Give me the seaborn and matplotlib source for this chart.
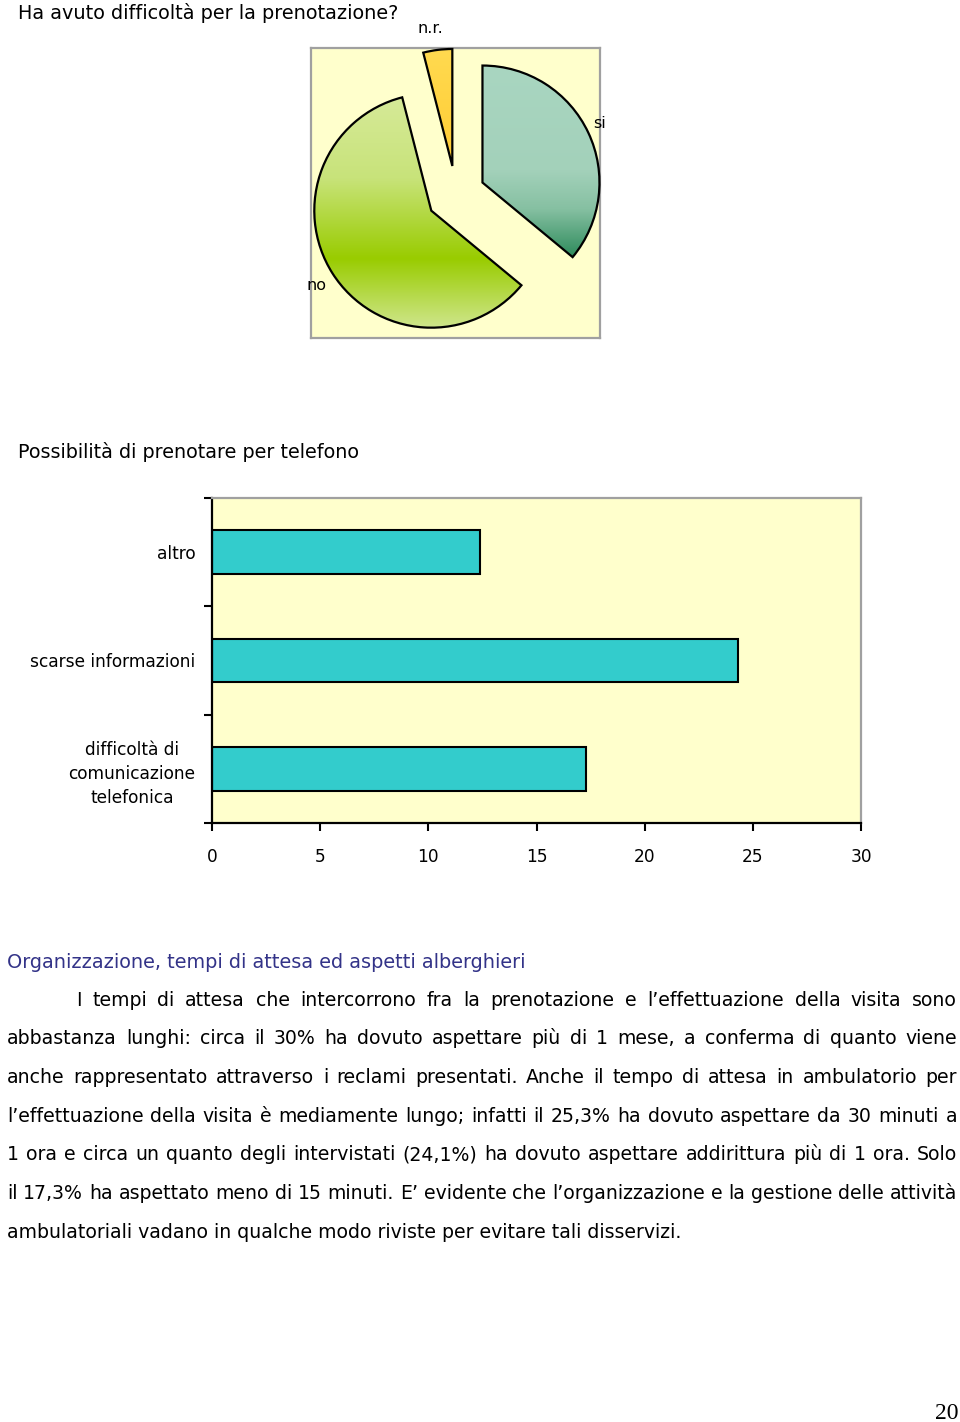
import numpy as np
import pandas as pd
import matplotlib
matplotlib.use('Agg')
import matplotlib.pyplot as plt
import seaborn as sns
from matplotlib.colors import LinearSegmentedColormap

# ---------------- data ----------------
pie_title = "Ha avuto difficoltà per la prenotazione?"
pie_labels = ['si', 'no', 'n.r.']
pie_values = [36, 60, 4]

bar_title = "Possibilità di prenotare per telefono"
bar_categories = ['altro', 'scarse informazioni', 'difficoltà di\ncomunicazione\ntelefonica']
bar_values = [12.4, 24.3, 17.3]
x_ticks = [0, 5, 10, 15, 20, 25, 30]

heading = "Organizzazione, tempi di attesa ed aspetti alberghieri"
body_lines = [
    "I tempi di attesa che intercorrono fra la prenotazione e l’effettuazione della visita sono",
    "abbastanza lunghi: circa il 30% ha dovuto aspettare più di 1 mese, a conferma di quanto viene",
    "anche rappresentato attraverso i reclami presentati. Anche il tempo di attesa in ambulatorio per",
    "l’effettuazione della visita è mediamente lungo; infatti il 25,3% ha dovuto aspettare da 30 minuti a",
    "1 ora e circa un quanto degli intervistati (24,1%) ha dovuto aspettare addirittura più di 1 ora.  Solo",
    "il 17,3% ha aspettato meno di 15 minuti. E’ evidente che l’organizzazione e la gestione delle attività",
    "ambulatoriali vadano in qualche modo riviste per evitare tali disservizi.",
]
page_number = "20"

# ---------------- setup ----------------
W, H, DPI = 960, 1422, 100
sns.set_theme(style='white')
plt.rcParams['font.family'] = ['DejaVu Sans']
plt.rcParams['text.color'] = 'black'
plt.rcParams['xtick.color'] = 'black'
plt.rcParams['ytick.color'] = 'black'

fig = plt.figure(figsize=(W / DPI, H / DPI), dpi=DPI)
fig.patch.set_facecolor('white')
renderer = fig.canvas.get_renderer()


def fig_rect(x0, y0, x1, y1):
    return [x0 / W, 1 - y1 / H, (x1 - x0) / W, (y1 - y0) / H]


def text_width(s, size, **kw):
    t = fig.text(0, 0, s, fontsize=size, **kw)
    w = t.get_window_extent(renderer).width
    t.remove()
    return w


def fit_size(s, target, **kw):
    return 12.0 * target / text_width(s, 12.0, **kw)


def ptext(x, y, s, **kw):
    return fig.text(x / W, 1 - y / H, s, **kw)


# ---------------- pie ----------------
ptext(18, 19, pie_title, fontsize=fit_size(pie_title, 380), va='baseline', ha='left', color='black')

axp = fig.add_axes(fig_rect(311, 48, 600, 338))
R = 117.0
cx, cy = 456.0, 195.0
cmaps = [
    LinearSegmentedColormap.from_list('si', [(0, '#A9D6C1'), (0.55, '#A3D1BA'), (0.75, '#86C0A2'), (1, '#2E8B5C')]),
    LinearSegmentedColormap.from_list('no', [(0, '#D6EA98'), (0.35, '#C8E37A'), (0.70, '#99CC00'), (1, '#CFE68C')]),
    LinearSegmentedColormap.from_list('nr', [(0, '#FFDA50'), (1, '#FFCC33')]),
]
wedges, texts = axp.pie(
    pie_values, labels=pie_labels, startangle=90, counterclock=False,
    explode=[0.25] * len(pie_values), radius=1, labeldistance=1.1, frame=True,
    wedgeprops=dict(edgecolor='black', linewidth=1.6, facecolor='none'),
    textprops=dict(fontsize=11.5, color='black'))
for w, cm in zip(wedges, cmaps):
    w.set_facecolor('none')
    w.set_zorder(3)
    ext = w.get_path().get_extents()
    grad = np.linspace(0, 1, 256).reshape(-1, 1)
    im = axp.imshow(grad, cmap=cm, extent=[ext.x0, ext.x1, ext.y0, ext.y1],
                    origin='upper', aspect='auto', zorder=2, interpolation='bilinear')
    im.set_clip_path(w)
# nudge label placement to match the original layout
tx, ty = texts[2].get_position()
texts[2].set_position((tx - 0.05, ty + 0.08))
texts[2].set_ha('center')
tx, ty = texts[0].get_position()
texts[0].set_position((tx - 0.05, ty + 0.04))
tx, ty = texts[1].get_position()
texts[1].set_position((tx + 0.03, ty - 0.05))
axp.set_xlim(-(cx - 311) / R, (600 - cx) / R)
axp.set_ylim(-(338 - cy) / R, (cy - 48) / R)
axp.set_aspect('auto')
axp.set_facecolor('#FFFFCC')
axp.set_xticks([])
axp.set_yticks([])
for sp in axp.spines.values():
    sp.set_visible(True)
    sp.set_color('#A0A0A0')
    sp.set_linewidth(1.6)

# ---------------- bar chart ----------------
ptext(18, 458, bar_title, fontsize=fit_size(bar_title, 340), va='baseline', ha='left', color='black')

lab_size = fit_size('scarse informazioni', 165)
df = pd.DataFrame({'cat': bar_categories, 'val': bar_values})
axb = fig.add_axes(fig_rect(212, 498, 861, 823))
sns.barplot(data=df, y='cat', x='val', orient='h', color='#33CCCC', width=0.4,
            edgecolor='black', linewidth=1.5, saturation=1, ax=axb)
axb.set_facecolor('#FFFFCC')
axb.set_xlim(0, 30)
axb.set_ylim(len(bar_categories) - 0.5, -0.5)
axb.set_xlabel('')
axb.set_ylabel('')
axb.set_xticks(x_ticks)
axb.set_xticklabels([str(v) for v in x_ticks], fontsize=lab_size, color='black')
axb.set_yticks(np.arange(len(bar_categories) + 1) - 0.5)
axb.set_yticklabels([''] * (len(bar_categories) + 1))
axb.set_yticks(np.arange(len(bar_categories)), minor=True)
axb.set_yticklabels(bar_categories, minor=True, fontsize=lab_size, color='black')
for t in axb.get_yticklabels(minor=True):
    t.set_multialignment('center')
    t.set_linespacing(1.45)
axb.tick_params(axis='y', which='major', direction='out', length=6, width=1.5, color='black', left=True)
axb.tick_params(axis='y', which='minor', length=0, pad=12, labelcolor='black')
axb.tick_params(axis='x', which='major', direction='out', length=6, width=1.5, color='black',
                bottom=True, pad=12, labelcolor='black')
for s in ['left', 'bottom']:
    axb.spines[s].set_color('black')
    axb.spines[s].set_linewidth(1.6)
for s in ['top', 'right']:
    axb.spines[s].set_color('#A0A0A0')
    axb.spines[s].set_linewidth(1.6)

# ---------------- body text ----------------
ptext(7, 968, heading, fontsize=fit_size(heading, 517), va='baseline', ha='left', color='#333388')

left, right = 7, 957
indent = 76
baselines = [1006, 1044.5, 1083, 1122, 1160.5, 1199, 1238]
min_gap = 4.5
cands = [fit_size(body_lines[-1], 671)]
for i, line in enumerate(body_lines[:-1]):
    avail = right - (indent if i == 0 else left)
    words = line.split()
    wsum = sum(text_width(wd, 12.0) for wd in words)
    cands.append(12.0 * (avail - (len(words) - 1) * min_gap) / wsum)
bsize = min(cands)

for i, line in enumerate(body_lines):
    x0 = indent if i == 0 else left
    y = baselines[i]
    if i == len(body_lines) - 1:
        ptext(x0, y, line, fontsize=bsize, va='baseline', ha='left', color='black')
        continue
    words = line.split()
    widths = [text_width(wd, bsize) for wd in words]
    gap = (right - x0 - sum(widths)) / (len(words) - 1)
    x = x0
    for wd, wdw in zip(words, widths):
        ptext(x, y, wd, fontsize=bsize, va='baseline', ha='left', color='black')
        x += wdw + gap

ptext(958, 1419, page_number, fontsize=17, va='baseline', ha='right', color='black',
      family=['Liberation Serif'])

fig.savefig('out.png', dpi=DPI, facecolor='white')
